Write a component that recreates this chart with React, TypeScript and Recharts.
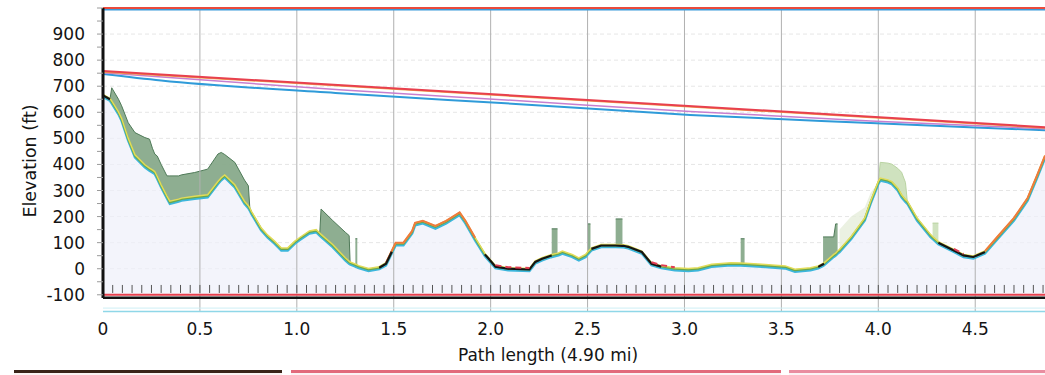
import React from 'react';
import {
  ComposedChart,
  Line,
  Area,
  XAxis,
  YAxis,
  ReferenceLine,
  Scatter,
  CartesianGrid,
} from 'recharts';

// ---- Terrain profile (distance in miles, elevation in ft) ----
const DIST = [
  0.0, 0.036, 0.045, 0.08, 0.096, 0.13, 0.165, 0.216, 0.24, 0.255, 0.267, 0.28, 0.3, 0.33, 0.345, 0.39,
  0.405, 0.473, 0.54, 0.593, 0.61, 0.628, 0.68, 0.73, 0.75, 0.758, 0.765, 0.816, 0.85, 0.885, 0.92, 0.953,
  0.99, 1.013, 1.065, 1.1, 1.118, 1.125, 1.185, 1.25, 1.27, 1.275, 1.3, 1.302, 1.312, 1.314, 1.32, 1.37,
  1.425, 1.46, 1.49, 1.51, 1.55, 1.595, 1.61, 1.65, 1.715, 1.77, 1.84, 1.87, 1.92, 1.97, 1.99, 2.025,
  2.09, 2.2, 2.23, 2.265, 2.31, 2.315, 2.345, 2.35, 2.37, 2.42, 2.455, 2.49, 2.5, 2.515, 2.52, 2.57,
  2.64, 2.645, 2.68, 2.685, 2.71, 2.78, 2.83, 2.88, 2.95, 3.02, 3.07, 3.14, 3.24, 3.29, 3.31, 3.315,
  3.4, 3.52, 3.57, 3.65, 3.69, 3.715, 3.72, 3.77, 3.78, 3.79, 3.8, 3.86, 3.93, 3.96, 4.0, 4.01,
  4.05, 4.07, 4.1, 4.12, 4.14, 4.15, 4.2, 4.27, 4.28, 4.31, 4.315, 4.32, 4.39, 4.44, 4.49, 4.55,
  4.61, 4.7, 4.77, 4.82, 4.86,
];
const TERRAIN = [
  665, 650, 640, 598, 573, 497, 433, 395, 382, 375, 369, 350, 318, 275, 255, 263,
  267, 274, 280, 331, 345, 356, 318, 255, 238, 228, 217, 153, 125, 102, 76, 76,
  102, 115, 141, 146, 133, 128, 89, 38, 25, 22, 15, 14, 11, 10, 8, -3,
  4, 19, 65, 96, 96, 141, 172, 180, 160, 180, 212, 180, 115, 55, 38, 8,
  0, -3, 26, 38, 50, 51, 56, 57, 64, 51, 38, 51, 60, 72, 76, 89,
  89, 89, 88, 88, 84, 64, 19, 8, 0, -3, 0, 13, 19, 18, 17, 17,
  13, 7, -6, 0, 7, 17, 19, 51, 56, 64, 70, 120, 191, 255, 331, 344,
  337, 330, 306, 280, 262, 255, 191, 127, 120, 100, 98, 96, 70, 51, 45, 64,
  115, 191, 267, 356, 430,
];
// Top of dark green clutter band (null = none)
const CANOPY_DARK = [
  null, 650, 694, 650, 625, 560, 522, 503, 497, 462, 440, 432, 400, 356, 356, 356,
  360, 369, 382, 440, 446, 438, 408, 340, 318, 228, null, null, null, null, null, null,
  null, null, null, null, 133, 229, 185, 140, 127, 22, null, 115, 115, null, null, null,
  null, null, null, null, null, null, null, null, null, null, null, null, null, null, null, null,
  null, null, null, null, null, 153, 153, null, null, null, null, null, 172, 172, null, null,
  null, 191, 191, null, null, null, null, null, null, null, null, null, null, 115, 115, null,
  null, null, null, null, null, 122, 122, 122, 172, 172, null, null, null, null, null, null,
  null, null, null, null, null, null, null, null, null, null, null, null, null, null, null, null,
  null, null, null, null, null,
];
// Top of light green clutter band (null = none)
const CANOPY_LIGHT = [
  null, null, null, null, null, null, null, null, null, null, null, null, null, null, null, null,
  null, null, null, null, null, null, null, null, null, null, null, null, null, null, null, null,
  null, null, null, null, null, null, null, null, null, null, null, null, null, null, null, null,
  null, null, null, null, null, null, null, null, null, null, null, null, null, null, null, null,
  null, null, null, null, null, null, null, null, null, null, null, null, null, null, null, null,
  null, null, null, null, null, null, null, null, null, null, null, null, null, null, null, null,
  null, null, null, null, null, null, null, null, null, null, null, null, null, null, 331, 408,
  405, 401, 385, 370, 331, 255, null, null, 175, 175, null, null, null, null, null, null,
  null, null, null, null, null,
];
// Top of very faint clutter band (null = none)
const CANOPY_FAINT = [
  null, null, null, null, null, null, null, null, null, null, null, null, null, null, null, null,
  null, null, null, null, null, null, null, null, null, null, null, null, null, null, null, null,
  null, null, null, null, null, null, null, null, null, null, null, null, null, null, null, null,
  null, null, null, null, null, null, null, null, null, null, null, null, null, null, null, null,
  null, null, null, null, null, null, null, null, null, null, null, null, null, null, null, null,
  null, null, null, null, null, null, null, null, null, null, null, null, null, null, null, null,
  null, null, null, null, null, null, null, null, null, null, 150, 200, 235, 290, 331, null,
  null, null, null, null, null, null, null, null, null, null, null, null, null, null, null, null,
  null, null, null, null, null,
];

// Coloured overlays of the terrain line (mile ranges)
const BLACK_RANGES = [[0, 0.04], [1.42, 1.5], [1.97, 2.09], [2.2, 2.32], [2.52, 2.88], [3.69, 3.72], [4.31, 4.44], [4.49, 4.56]];
const RED_RANGES = [[2.02, 2.2], [2.83, 2.96], [4.35, 4.45]];
const ORANGE_RANGES = [[1.46, 1.92], [4.55, 4.86]];

// ---- Line of sight / Fresnel lines ----
const LOS_RED_D = [0, 4.86];
const LOS_RED = [758, 543];
const LOS_ORANGE_D = [0, 4.86];
const LOS_ORANGE = [755, 540];
const LOS_PURPLE_D = [0, 1.22, 2.13, 3.03, 3.96, 4.86];
const LOS_PURPLE = [752, 686, 645, 603, 567, 537];
const LOS_BLUE_D = [0, 0.3, 1.22, 2.13, 3.03, 3.96, 4.5, 4.86];
const LOS_BLUE = [747, 722, 673, 632, 590, 559, 542, 531];

const X_TICKS = [0, 0.5, 1.0, 1.5, 2.0, 2.5, 3.0, 3.5, 4.0, 4.5];
const Y_TICKS = [-100, -50, 0, 50, 100, 150, 200, 250, 300, 350, 400, 450, 500, 550, 600, 650, 700, 750, 800, 850, 900, 950, 1000];
const Y_LABELS = [-100, 0, 100, 200, 300, 400, 500, 600, 700, 800, 900];
const GRID_Y = [-100, 0, 100, 200, 300, 400, 500, 600, 700, 800, 900];
const GRID_X = [0.5, 1.0, 1.5, 2.0, 2.5, 3.0, 3.5, 4.0, 4.5];
const BOTTOM_TICKS = Array.from({ length: 97 }, (_, i) => Math.round((i + 1) * 5) / 100);

const inRanges = (d: number, ranges: number[][]) => ranges.some(([a, b]) => d >= a && d <= b);

const table = DIST.map((d, i) => ({
  d,
  terrain: TERRAIN[i],
  dark: CANOPY_DARK[i] == null ? null : [TERRAIN[i], CANOPY_DARK[i]],
  light: CANOPY_LIGHT[i] == null ? null : [TERRAIN[i], CANOPY_LIGHT[i]],
  faint: CANOPY_FAINT[i] == null ? null : [TERRAIN[i], CANOPY_FAINT[i]],
  black: inRanges(d, BLACK_RANGES) ? TERRAIN[i] : null,
  red: inRanges(d, RED_RANGES) ? TERRAIN[i] : null,
  orange: inRanges(d, ORANGE_RANGES) ? TERRAIN[i] : null,
}));

const mk = (ds: number[], vs: number[]) => ds.map((d, i) => ({ d, v: vs[i] }));
const losRed = mk(LOS_RED_D, LOS_RED);
const losOrange = mk(LOS_ORANGE_D, LOS_ORANGE);
const losPurple = mk(LOS_PURPLE_D, LOS_PURPLE);
const losBlue = mk(LOS_BLUE_D, LOS_BLUE);
const tickMarks = BOTTOM_TICKS.map((d) => ({ d, v: -93 }));

const FONT = 'DejaVu Sans, Verdana, sans-serif';
const TEXT = '#141414';

export default function App() {
  return (
    <div style={{ position: 'absolute', left: 0, top: 0, width: 1045, height: 375, background: '#fff', overflow: 'hidden' }}>
      <ComposedChart
        width={1045}
        height={375}
        data={table}
        margin={{ top: 8, right: 0, bottom: 33, left: 0 }}
      >
        <CartesianGrid vertical={false} horizontalValues={GRID_Y} stroke="#e6e6e6" strokeDasharray="4 3" />
        <XAxis
          type="number"
          dataKey="d"
          domain={[0, 4.86]}
          ticks={X_TICKS}
          allowDataOverflow
          axisLine={false}
          tickLine={false}
          tickSize={0}
          tickMargin={11}
          height={30}
          interval={0}
          tickFormatter={(v: number) => (v === 0 ? '0' : v.toFixed(1))}
          tick={{ fontFamily: FONT, fontSize: 17, fill: TEXT }}
          label={{
            content: () => (
              <text x={548} y={361} textAnchor="middle" fontFamily={FONT} fontSize={17} fill={TEXT}>
                Path length (4.90 mi)
              </text>
            ),
          }}
        />
        <YAxis
          type="number"
          domain={[-166, 1000]}
          ticks={Y_TICKS}
          interval={0}
          width={103}
          axisLine={false}
          tickSize={6}
          tickMargin={12}
          tickLine={{ stroke: '#9a9a9a' }}
          allowDataOverflow
          tickFormatter={(v: number) => (Y_LABELS.includes(v) ? String(v) : '')}
          tick={{ fontFamily: FONT, fontSize: 17, fill: TEXT }}
          label={{
            content: () => (
              <text x={36} y={161} transform="rotate(-90 36 161)" textAnchor="middle" fontFamily={FONT} fontSize={17.5} fill={TEXT}>
                Elevation (ft)
              </text>
            ),
          }}
        />

        {/* light fill under terrain */}
        <Area dataKey="terrain" type="linear" baseValue={-100} fill="#eef0f9" fillOpacity={0.7} stroke="none" isAnimationActive={false} />

        {GRID_X.map((x) => (
          <ReferenceLine key={'gx' + x} x={x} stroke="#b0b0b0" strokeWidth={1} />
        ))}

        {/* clutter bands */}
        <Area dataKey="faint" type="linear" fill="#e6eedb" fillOpacity={0.8} stroke="none" isAnimationActive={false} connectNulls={false} />
        <Area dataKey="light" type="linear" fill="#cadfb8" fillOpacity={0.9} stroke="#b9d3a2" strokeWidth={1} isAnimationActive={false} connectNulls={false} />
        <Area dataKey="dark" type="linear" fill="#88aa8b" fillOpacity={0.95} stroke="#4f7a58" strokeWidth={1} isAnimationActive={false} connectNulls={false} />

        {/* terrain lines */}
        <Line dataKey="terrain" type="linear" stroke="#3cb6dc" strokeWidth={2.5} dot={false} isAnimationActive={false} style={{ transform: 'translate(0px, 1.5px)' }} />
        <Line dataKey="terrain" type="linear" stroke="#6aa84f" strokeWidth={2} dot={false} isAnimationActive={false} />
        <Line dataKey="terrain" type="linear" stroke="#e2dc58" strokeWidth={1.5} dot={false} isAnimationActive={false} style={{ transform: 'translate(0px, -1px)' }} />
        <Line dataKey="orange" type="linear" stroke="#ef7a3c" strokeWidth={2} dot={false} isAnimationActive={false} connectNulls={false} style={{ transform: 'translate(0px, -1px)' }} />
        <Line dataKey="black" type="linear" stroke="#151515" strokeWidth={2.2} dot={false} isAnimationActive={false} connectNulls={false} />
        <Line dataKey="red" type="linear" stroke="#e23c52" strokeWidth={2} strokeDasharray="6 4" dot={false} isAnimationActive={false} connectNulls={false} style={{ transform: 'translate(0px, -1.5px)' }} />

        {/* line of sight / fresnel */}
        <Line data={losBlue} dataKey="v" type="monotone" stroke="#2f9bd9" strokeWidth={2} dot={false} isAnimationActive={false} />
        <Line data={losPurple} dataKey="v" type="monotone" stroke="#c77fcf" strokeWidth={1.5} dot={false} isAnimationActive={false} />
        <Line data={losOrange} dataKey="v" type="linear" stroke="#f0a24a" strokeWidth={1.5} dot={false} isAnimationActive={false} />
        <Line data={losRed} dataKey="v" type="linear" stroke="#e8404e" strokeWidth={2} dot={false} isAnimationActive={false} />

        {/* small distance ticks above baseline */}
        <Scatter
          data={tickMarks}
          dataKey="v"
          isAnimationActive={false}
          shape={(p: any) => <line x1={p.cx} x2={p.cx} y1={p.cy} y2={p.cy - 8} stroke="#555" strokeWidth={1} />}
        />

        {/* frame lines */}
        <ReferenceLine y={1000} stroke="#ea4a3c" strokeWidth={2} />
        <ReferenceLine y={993} stroke="#3a9ad9" strokeWidth={1.5} />
        <ReferenceLine y={-100} stroke="#e8404e" strokeWidth={2} />
        <ReferenceLine y={-111} stroke="#111" strokeWidth={2.5} />
        <ReferenceLine y={-151} stroke="#cdeef4" strokeWidth={1} />
        <ReferenceLine y={-164} stroke="#8fd7e8" strokeWidth={1.5} />
        <ReferenceLine segment={[{ x: 0, y: -112 }, { x: 0, y: 1000 }]} stroke="#111" strokeWidth={3} />
      </ComposedChart>

      <div style={{ position: 'absolute', left: 14, top: 370, width: 268, height: 5, borderTop: '3px solid #3a2418', background: '#fbf3f2', boxSizing: 'border-box' }} />
      <div style={{ position: 'absolute', left: 291, top: 370, width: 490, height: 5, borderTop: '3px solid #e26a7c', background: '#fcf3f5', boxSizing: 'border-box' }} />
      <div style={{ position: 'absolute', left: 789, top: 370, width: 256, height: 5, borderTop: '3px solid #e98da0', background: '#fcf3f5', boxSizing: 'border-box' }} />
    </div>
  );
}
